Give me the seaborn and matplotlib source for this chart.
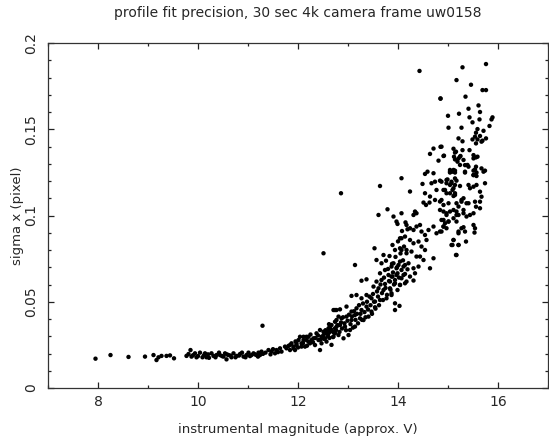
# -*- coding: utf-8 -*-
import numpy as np
import pandas as pd
import matplotlib
matplotlib.use('Agg')
import matplotlib.pyplot as plt
from matplotlib.ticker import MultipleLocator, FuncFormatter
import seaborn as sns

TITLE = 'profile fit precision, 30 sec 4k camera frame uw0158'
XLABEL = 'instrumental magnitude (approx. V)'
YLABEL = 'sigma x (pixel)'
XTICKS = [8, 10, 12, 14, 16]
YTICKS = [0, 0.05, 0.1, 0.15, 0.2]

# (magnitude, sigma x), grouped by region
bright_stars = [
    (7.95, 0.0170), (8.25, 0.0191), (8.61, 0.0180), (8.94, 0.0182), (9.11, 0.0191),
    (9.17, 0.0162), (9.21, 0.0178), (9.27, 0.0186), (9.37, 0.0186), (9.44, 0.0189),
    (9.52, 0.0172), (9.77, 0.0186), (9.81, 0.0197), (9.85, 0.0220), (9.87, 0.0182),
    (9.94, 0.0201), (9.97, 0.0178), (10.04, 0.0205), (10.09, 0.0178), (10.14, 0.0201),
    (10.17, 0.0178), (10.27, 0.0201), (10.31, 0.0186), (10.37, 0.0191), (10.44, 0.0191),
    (10.51, 0.0182), (10.54, 0.0201), (10.57, 0.0166), (10.61, 0.0191), (10.67, 0.0178),
    (10.71, 0.0201), (10.77, 0.0186), (10.84, 0.0197), (10.91, 0.0182), (10.97, 0.0191),
    (11.01, 0.0205), (11.07, 0.0191), (11.11, 0.0201), (11.17, 0.0191), (11.21, 0.0205),
    (11.24, 0.0191), (11.27, 0.0211), (11.29, 0.0361), (11.41, 0.0220), (11.47, 0.0211),
    (11.54, 0.0201), (11.57, 0.0220), (11.64, 0.0230), (11.67, 0.0211), (11.74, 0.0240),
    (9.90, 0.0190), (10.00, 0.0185), (10.12, 0.0190), (10.20, 0.0195), (10.22, 0.0175),
    (10.35, 0.0178), (10.42, 0.0205), (10.48, 0.0185), (10.58, 0.0195), (10.65, 0.0188),
    (10.75, 0.0178), (10.82, 0.0188), (10.88, 0.0205), (10.95, 0.0178), (11.04, 0.0185),
    (11.14, 0.0195), (11.20, 0.0182), (11.30, 0.0198), (11.35, 0.0205), (11.45, 0.0195),
    (11.50, 0.0225), (11.60, 0.0208),
]

knee_stars = [
    (11.77, 0.0230), (11.81, 0.0244), (11.84, 0.0220), (11.87, 0.0259), (11.91, 0.0240),
    (11.94, 0.0220), (11.97, 0.0249), (12.01, 0.0278), (12.04, 0.0297), (12.07, 0.0259),
    (12.11, 0.0297), (12.14, 0.0240), (12.17, 0.0278), (12.21, 0.0297), (12.24, 0.0259),
    (12.27, 0.0278), (12.31, 0.0288), (12.34, 0.0249), (12.37, 0.0317), (12.41, 0.0278),
    (12.44, 0.0336), (12.44, 0.0220), (12.47, 0.0297), (12.51, 0.0326), (12.54, 0.0288),
    (12.57, 0.0317), (12.61, 0.0346), (12.64, 0.0326), (12.67, 0.0365), (12.71, 0.0452),
    (12.77, 0.0452), (12.74, 0.0384), (12.77, 0.0355), (12.81, 0.0414), (12.74, 0.0317),
    (11.95, 0.0270), (12.00, 0.0235), (12.10, 0.0260), (12.18, 0.0245), (12.25, 0.0310),
    (12.30, 0.0265), (12.35, 0.0290), (12.40, 0.0305), (12.45, 0.0280), (12.50, 0.0295),
    (12.55, 0.0335), (12.60, 0.0300), (12.62, 0.0370), (12.68, 0.0330), (12.70, 0.0295),
    (11.84, 0.0249), (11.91, 0.0230), (11.97, 0.0259), (12.07, 0.0240), (12.11, 0.0278),
    (12.17, 0.0297), (12.21, 0.0268),
]

mid_stars = [
    (12.51, 0.0781), (13.99, 0.0951), (14.19, 0.0920), (14.07, 0.0868), (13.89, 0.0829),
    (14.04, 0.0810), (14.17, 0.0800), (13.53, 0.0810), (13.71, 0.0771), (13.83, 0.0765),
    (13.57, 0.0742), (13.76, 0.0738), (13.67, 0.0723), (13.14, 0.0713), (14.04, 0.0733),
    (14.14, 0.0713), (13.87, 0.0704), (13.97, 0.0694), (14.07, 0.0684), (14.19, 0.0688),
    (13.64, 0.0665), (13.74, 0.0684), (13.81, 0.0655), (13.89, 0.0646), (13.99, 0.0665),
    (14.11, 0.0655), (13.27, 0.0622), (13.37, 0.0630), (13.57, 0.0617), (13.67, 0.0626),
    (13.74, 0.0603), (13.84, 0.0617), (13.94, 0.0626), (14.04, 0.0597), (14.14, 0.0607),
    (13.51, 0.0588), (13.61, 0.0578), (13.71, 0.0568), (13.84, 0.0578), (13.99, 0.0568),
    (13.07, 0.0534), (13.17, 0.0539), (13.27, 0.0520), (13.37, 0.0539), (13.47, 0.0520),
    (13.54, 0.0501), (13.64, 0.0510), (13.77, 0.0520), (13.87, 0.0539), (13.94, 0.0491),
    (14.03, 0.0476), (13.94, 0.0452), (12.74, 0.0452), (12.84, 0.0456), (12.97, 0.0472),
    (13.07, 0.0443), (13.17, 0.0462), (13.27, 0.0452), (13.37, 0.0472), (13.47, 0.0443),
    (13.54, 0.0468), (12.77, 0.0394), (12.87, 0.0404), (12.97, 0.0414), (13.07, 0.0394),
    (13.14, 0.0423), (13.24, 0.0404), (13.31, 0.0394), (13.41, 0.0414), (12.64, 0.0356),
    (12.74, 0.0346), (12.84, 0.0365), (12.94, 0.0356), (13.04, 0.0336), (13.14, 0.0356),
    (12.51, 0.0307), (12.61, 0.0317), (12.71, 0.0298), (12.81, 0.0307), (12.91, 0.0288),
    (13.01, 0.0307), (12.47, 0.0259), (12.57, 0.0269), (12.67, 0.0250),
    (12.52, 0.0285), (12.58, 0.0330), (12.63, 0.0290), (12.66, 0.0340), (12.72, 0.0320),
    (12.76, 0.0335), (12.79, 0.0365), (12.83, 0.0325), (12.86, 0.0380), (12.88, 0.0345),
    (12.90, 0.0410), (12.93, 0.0375), (12.96, 0.0335), (12.99, 0.0390), (13.02, 0.0425),
    (13.05, 0.0370), (13.08, 0.0415), (13.10, 0.0350), (13.12, 0.0445), (13.15, 0.0395),
    (13.18, 0.0430), (13.20, 0.0375), (13.22, 0.0480), (13.25, 0.0430), (13.28, 0.0395),
    (13.30, 0.0490), (13.33, 0.0440), (13.35, 0.0410), (13.38, 0.0500), (13.40, 0.0455),
    (13.43, 0.0530), (13.45, 0.0480), (13.48, 0.0430), (13.50, 0.0545), (13.52, 0.0500),
    (13.55, 0.0460), (13.58, 0.0560), (13.60, 0.0530), (13.62, 0.0480), (13.65, 0.0600),
    (13.68, 0.0550), (13.70, 0.0510), (13.72, 0.0640), (13.75, 0.0580), (13.78, 0.0540),
    (13.80, 0.0690), (13.82, 0.0620), (13.85, 0.0570), (13.88, 0.0720), (13.90, 0.0670),
    (13.92, 0.0600), (13.95, 0.0760), (13.98, 0.0700), (14.00, 0.0850), (14.02, 0.0640),
    (14.05, 0.0780), (14.08, 0.0910), (14.10, 0.0740), (14.12, 0.0820), (14.15, 0.0960),
    (12.86, 0.1129), (13.64, 0.1171), (13.61, 0.1003), (13.79, 0.1036),
]

faint_stars = [
    (14.64, 0.1357), (14.91, 0.1345), (15.14, 0.1365), (15.24, 0.1341), (15.31, 0.1322),
    (15.39, 0.1293), (15.24, 0.1293), (15.11, 0.1264), (15.04, 0.1249), (14.81, 0.1318),
    (14.59, 0.1254), (14.54, 0.1241), (14.71, 0.1245), (14.07, 0.1216), (14.49, 0.1183),
    (14.67, 0.1187), (14.74, 0.1196), (14.84, 0.1202), (14.97, 0.1206), (15.07, 0.1187),
    (15.17, 0.1202), (15.24, 0.1171), (15.09, 0.1148), (15.14, 0.1119), (14.97, 0.1129),
    (14.91, 0.1148), (14.77, 0.1148), (14.24, 0.1139), (14.54, 0.1129), (14.64, 0.1110),
    (14.74, 0.1090), (14.84, 0.1081), (14.91, 0.1061), (14.63, 0.1075), (14.56, 0.1061),
    (14.51, 0.1075), (15.27, 0.1090), (15.37, 0.1071), (15.21, 0.1052), (15.31, 0.1032),
    (15.04, 0.1023), (14.97, 0.1003), (14.91, 0.0974), (15.01, 0.0965), (15.11, 0.0984),
    (15.17, 0.1003), (14.34, 0.1023), (14.37, 0.1013), (14.31, 0.1003), (13.91, 0.0994),
    (13.97, 0.0965), (14.07, 0.1013), (14.17, 0.0945), (14.24, 0.0926), (14.31, 0.0916),
    (14.37, 0.0936), (14.44, 0.0945), (14.47, 0.0907), (14.54, 0.0887), (14.61, 0.0916),
    (14.71, 0.0936), (14.77, 0.0897), (14.84, 0.0907), (14.91, 0.0936), (15.21, 0.0897),
    (15.27, 0.0926), (15.34, 0.0907), (15.11, 0.0858), (15.07, 0.0829), (15.21, 0.0829),
    (15.17, 0.0771), (14.04, 0.0868), (14.14, 0.0878), (14.24, 0.0858), (14.31, 0.0839),
    (14.41, 0.0849), (14.47, 0.0820), (14.54, 0.0800), (14.57, 0.0858), (13.94, 0.0800),
    (14.07, 0.0800), (14.17, 0.0781), (14.27, 0.0791), (14.37, 0.0762), (14.44, 0.0762),
    (14.51, 0.0742), (14.71, 0.0752), (13.91, 0.0723), (14.01, 0.0713), (14.11, 0.0704),
    (14.21, 0.0723), (14.31, 0.0694), (14.41, 0.0704), (14.64, 0.0694), (13.87, 0.0646),
    (13.97, 0.0655), (14.07, 0.0636), (14.14, 0.0661), (14.24, 0.0646), (14.34, 0.0665),
    (13.94, 0.0607), (14.04, 0.0598), (14.17, 0.0617), (14.31, 0.0623), (13.87, 0.0549),
    (14.43, 0.1838), (14.85, 0.1679), (14.71, 0.1388), (14.85, 0.1398),
]

faintest_stars = [
    (15.29, 0.1859), (15.76, 0.1878), (15.17, 0.1785), (15.46, 0.1758), (15.69, 0.1727),
    (15.76, 0.1727), (14.85, 0.1677), (15.35, 0.1689), (15.61, 0.1638), (15.41, 0.1619),
    (15.64, 0.1600), (15.00, 0.1578), (15.22, 0.1590), (15.43, 0.1569), (15.49, 0.1540),
    (15.63, 0.1557), (15.89, 0.1569), (15.87, 0.1557), (15.01, 0.1509), (15.27, 0.1509),
    (15.59, 0.1501), (15.71, 0.1491), (15.83, 0.1519), (15.56, 0.1480), (15.64, 0.1461),
    (15.76, 0.1447), (15.59, 0.1441), (15.54, 0.1457), (15.69, 0.1434), (15.21, 0.1447),
    (15.29, 0.1430), (15.49, 0.1441), (15.56, 0.1418), (15.67, 0.1428), (14.87, 0.1399),
    (14.92, 0.1347), (15.11, 0.1387), (15.16, 0.1370), (15.12, 0.1341), (15.14, 0.1325),
    (15.19, 0.1312), (15.21, 0.1331), (15.25, 0.1345), (15.29, 0.1379), (15.43, 0.1379),
    (15.51, 0.1350), (15.56, 0.1337), (15.51, 0.1331), (15.59, 0.1341), (15.34, 0.1292),
    (15.41, 0.1283), (15.56, 0.1283), (15.54, 0.1267), (15.67, 0.1273), (15.74, 0.1260),
    (15.51, 0.1260), (15.04, 0.1264), (15.09, 0.1254), (15.14, 0.1260), (15.34, 0.1254),
    (15.51, 0.1234), (15.57, 0.1229), (14.99, 0.1209), (15.14, 0.1215),
    (15.04, 0.1254), (15.14, 0.1249), (15.34, 0.1249), (15.51, 0.1235), (15.57, 0.1249),
    (15.71, 0.1254), (14.87, 0.1196), (14.97, 0.1187), (15.07, 0.1196), (15.14, 0.1177),
    (15.11, 0.1158), (15.04, 0.1177), (15.41, 0.1177), (15.51, 0.1167), (15.57, 0.1177),
    (15.74, 0.1187), (14.94, 0.1148), (15.04, 0.1129), (15.11, 0.1113), (15.14, 0.1129),
    (15.44, 0.1158), (15.64, 0.1138), (15.67, 0.1109), (15.64, 0.1080), (14.87, 0.1090),
    (15.01, 0.1071), (15.17, 0.1071), (15.31, 0.1100), (15.27, 0.1080), (15.41, 0.1071),
    (15.54, 0.1080), (15.56, 0.1051), (15.64, 0.1042), (14.84, 0.1032), (14.91, 0.1023),
    (14.97, 0.1013), (15.11, 0.1032), (15.17, 0.1023), (15.21, 0.1003), (15.31, 0.1013),
    (15.44, 0.1003), (15.51, 0.1013), (15.37, 0.0994), (14.87, 0.0974), (14.94, 0.0955),
    (15.01, 0.0965), (14.91, 0.0936), (14.97, 0.0926), (15.17, 0.0965), (15.51, 0.0945),
    (15.54, 0.0926), (15.53, 0.0901), (15.31, 0.0932), (15.21, 0.0907), (14.87, 0.0907),
    (15.11, 0.0858), (15.09, 0.0829), (15.21, 0.0829), (15.36, 0.0849), (15.16, 0.0771),
]

groups = [bright_stars, knee_stars, mid_stars, faint_stars, faintest_stars]
df = pd.DataFrame([p for g in groups for p in g], columns=['mag', 'sigma'])

sns.set_style('ticks')
plt.rcParams['font.family'] = ['DejaVu Sans']

fig = plt.figure(figsize=(5.49, 4.37), dpi=100)
ax = fig.add_axes([48 / 549, 49 / 437, 500 / 549, 345 / 437])

sns.scatterplot(data=df, x='mag', y='sigma', ax=ax, color='black',
                s=10, linewidth=0, edgecolor='none')

ax.set_xlim(7, 17)
ax.set_ylim(0, 0.2)
ax.set_xticks(XTICKS)
ax.set_yticks(YTICKS)
ax.xaxis.set_minor_locator(MultipleLocator(1))
ax.yaxis.set_minor_locator(MultipleLocator(0.01))
ax.yaxis.set_major_formatter(FuncFormatter(lambda v, p: '%g' % v))
ax.tick_params(which='both', direction='in', top=True, right=True,
               color='#222222', width=0.9, labelsize=10)
ax.tick_params(which='major', length=4.5)
ax.tick_params(which='minor', length=2.2)
ax.tick_params(axis='x', pad=5)
ax.tick_params(axis='y', pad=7)
plt.setp(ax.get_yticklabels(), rotation=90, va='center')
for sp in ax.spines.values():
    sp.set_linewidth(0.9)
    sp.set_color('#333333')

ax.set_xlabel(XLABEL, fontsize=9.5)
ax.set_ylabel(YLABEL, fontsize=9.5)
ax.xaxis.label.set_va('center')
ax.yaxis.label.set_va('center')
ax.xaxis.set_label_coords(0.5, -42 / 345)
ax.yaxis.set_label_coords(-30 / 500, 0.5)
fig.text(298 / 549, 1 - 13 / 437, TITLE, ha='center', va='center', fontsize=10)

fig.savefig('out.png', dpi=100)
